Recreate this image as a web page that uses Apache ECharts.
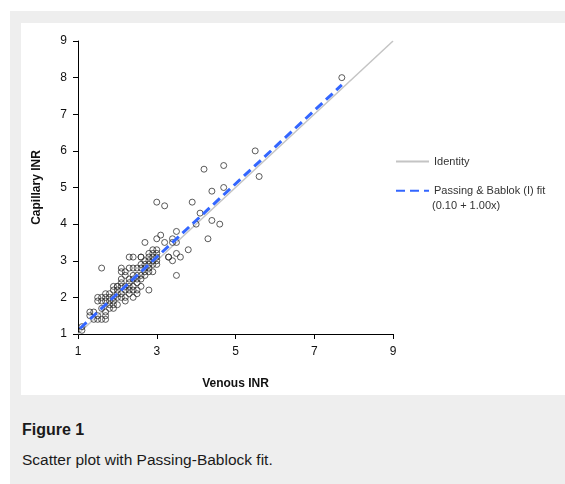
<!DOCTYPE html>
<html>
<head>
<meta charset="utf-8">
<script src="https://cdn.jsdelivr.net/npm/echarts@6/dist/echarts.min.js"></script>
<style>
  html, body { margin: 0; padding: 0; background: #fff; }
  #page { position: relative; width: 565px; height: 484px; overflow: hidden; }
  #frame { position: absolute; left: 10px; top: 11px; width: 555px; height: 473px; background: #eeeeee; }
  #chart { position: absolute; left: 21px; top: 23px; width: 544px; height: 372px; background: #fff; }
  .fig { position: absolute; left: 22px; font-family: "Liberation Sans", Arial, sans-serif; color: #1a1a1a; }
  #figTitle { top: 421px; font-size: 16px; font-weight: bold; }
  #figCaption { top: 451px; font-size: 15.5px; }
</style>
</head>
<body>
<div id="page">
  <div id="frame"></div>
  <div id="chart"></div>
  <div class="fig" id="figTitle">Figure 1</div>
  <div class="fig" id="figCaption">Scatter plot with Passing-Bablock fit.</div>
</div>
<script>
// venous / capillary INR pairs
const venous = [
  1.1, 1.1, 1.3, 1.3, 1.4, 1.4, 1.5, 1.5, 1.5, 1.5, 1.6, 1.6, 1.6, 1.6, 1.6, 1.7, 1.7, 1.7, 1.7, 1.7,
  1.7, 1.8, 1.8, 1.8, 1.8, 1.8, 1.9, 1.9, 1.9, 1.9, 1.9, 1.9, 2.0, 2.0, 2.0, 2.0, 2.0, 2.0, 2.1, 2.1,
  2.1, 2.1, 2.1, 2.1, 2.1, 2.2, 2.2, 2.2, 2.2, 2.2, 2.2, 2.3, 2.3, 2.3, 2.3, 2.3, 2.3, 2.3, 2.4, 2.4,
  2.4, 2.4, 2.4, 2.4, 2.4, 2.5, 2.5, 2.5, 2.5, 2.5, 2.5, 2.6, 2.6, 2.6, 2.6, 2.6, 2.6, 2.6, 2.7, 2.7,
  2.7, 2.7, 2.7, 2.7, 2.8, 2.8, 2.8, 2.8, 2.8, 2.8, 2.8, 2.9, 2.9, 2.9, 2.9, 2.9, 2.9, 3.0, 3.0, 3.0,
  3.0, 3.0, 3.0, 3.0, 3.1, 3.2, 3.2, 3.3, 3.3, 3.4, 3.4, 3.4, 3.5, 3.5, 3.5, 3.5, 3.6, 3.8, 3.9, 4.0,
  4.1, 4.2, 4.3, 4.4, 4.4, 4.6, 4.7, 4.7, 5.5, 5.6, 7.7
];
const capillary = [
  1.1, 1.2, 1.5, 1.6, 1.6, 1.4, 1.4, 1.5, 1.9, 2.0, 1.7, 1.4, 2.0, 1.9, 2.8, 1.5, 1.4, 1.6, 2.0, 1.9,
  2.1, 1.9, 2.0, 1.8, 1.7, 2.1, 1.8, 1.7, 2.0, 2.2, 1.9, 2.3, 2.1, 2.0, 2.3, 2.2, 1.8, 2.3, 2.3, 2.1,
  2.0, 2.4, 2.5, 2.7, 2.8, 2.6, 2.3, 2.2, 2.0, 1.9, 2.7, 2.3, 2.4, 2.2, 2.1, 2.8, 3.1, 2.5, 2.5, 2.3,
  2.2, 2.0, 3.1, 2.6, 2.8, 2.6, 2.4, 2.2, 2.1, 2.8, 2.5, 3.1, 2.8, 2.6, 2.5, 2.3, 2.9, 3.1, 2.9, 2.7,
  2.6, 3.5, 3.0, 2.8, 3.1, 3.0, 2.8, 2.7, 2.2, 3.2, 2.9, 3.3, 3.1, 3.0, 2.9, 2.7, 3.2, 3.2, 3.1, 3.0,
  2.9, 3.3, 3.6, 4.6, 3.7, 3.5, 4.5, 3.1, 3.1, 3.6, 3.5, 3.0, 3.5, 3.8, 3.2, 2.6, 3.1, 3.3, 4.6, 4.0,
  4.3, 5.5, 3.6, 4.9, 4.1, 4.0, 5.6, 5.0, 6.0, 5.3, 8.0
];
const points = venous.map((v, i) => [v, capillary[i]]);

// reference lines
const identityLine = [[1, 1], [9, 9]];
const fitLine = [[1.05, 1.15], [7.7, 7.8]];   // 0.10 + 1.00x
const xTicks = [1, 3, 5, 7, 9];

const myChart = echarts.init(document.getElementById('chart'));
const font = '"Liberation Sans", Arial, sans-serif';

const option = {
  animation: false,
  grid: { left: 57, right: 172, top: 18, bottom: 61 },
  xAxis: {
    type: 'value',
    min: 1,
    max: 9,
    name: 'Venous INR',
    nameLocation: 'middle',
    nameGap: 44,
    nameTextStyle: { fontFamily: font, fontSize: 12, fontWeight: 'bold', color: '#111' },
    axisLine: { lineStyle: { color: '#000', width: 1 } },
    axisTick: { show: true, length: 5, customValues: xTicks, lineStyle: { color: '#000' } },
    axisLabel: { customValues: xTicks, margin: 12, fontFamily: font, fontSize: 12, color: '#111' },
    splitLine: { show: false }
  },
  yAxis: {
    type: 'value',
    min: 1,
    max: 9,
    interval: 1,
    name: 'Capillary INR',
    nameLocation: 'middle',
    nameGap: 35,
    nameTextStyle: { fontFamily: font, fontSize: 12, fontWeight: 'bold', color: '#111' },
    axisLine: { show: true, lineStyle: { color: '#000', width: 1 } },
    axisTick: { show: true, length: 5, lineStyle: { color: '#000' } },
    axisLabel: { margin: 11, fontFamily: font, fontSize: 12, color: '#111' },
    splitLine: { show: false }
  },
  legend: {
    data: ['Identity', 'Passing & Bablok (I) fit'],
    orient: 'vertical',
    left: 369,
    top: 128,
    itemWidth: 33,
    itemHeight: 14,
    itemGap: 18,
    itemStyle: { opacity: 0 },
    textStyle: { fontFamily: font, fontSize: 11, color: '#333' },
    selectedMode: false
  },
  graphic: [{
    type: 'text',
    left: 411,
    top: 177,
    style: { text: '(0.10 + 1.00x)', font: '11px ' + font, fill: '#333' }
  }],
  series: [
    {
      type: 'scatter',
      name: 'data',
      data: points,
      symbol: 'circle',
      symbolSize: 6,
      itemStyle: { color: 'rgba(255,255,255,0)', borderColor: '#333', borderWidth: 1 },
      z: 2
    },
    {
      type: 'line',
      name: 'Identity',
      data: identityLine,
      symbol: 'none',
      lineStyle: { color: '#c4c4c4', width: 1.5 },
      z: 1
    },
    {
      type: 'line',
      name: 'Passing & Bablok (I) fit',
      data: fitLine,
      symbol: 'none',
      lineStyle: { color: '#3366ff', width: 3, type: [9, 5] },
      z: 3
    }
  ]
};
myChart.setOption(option);
</script>
</body>
</html>
